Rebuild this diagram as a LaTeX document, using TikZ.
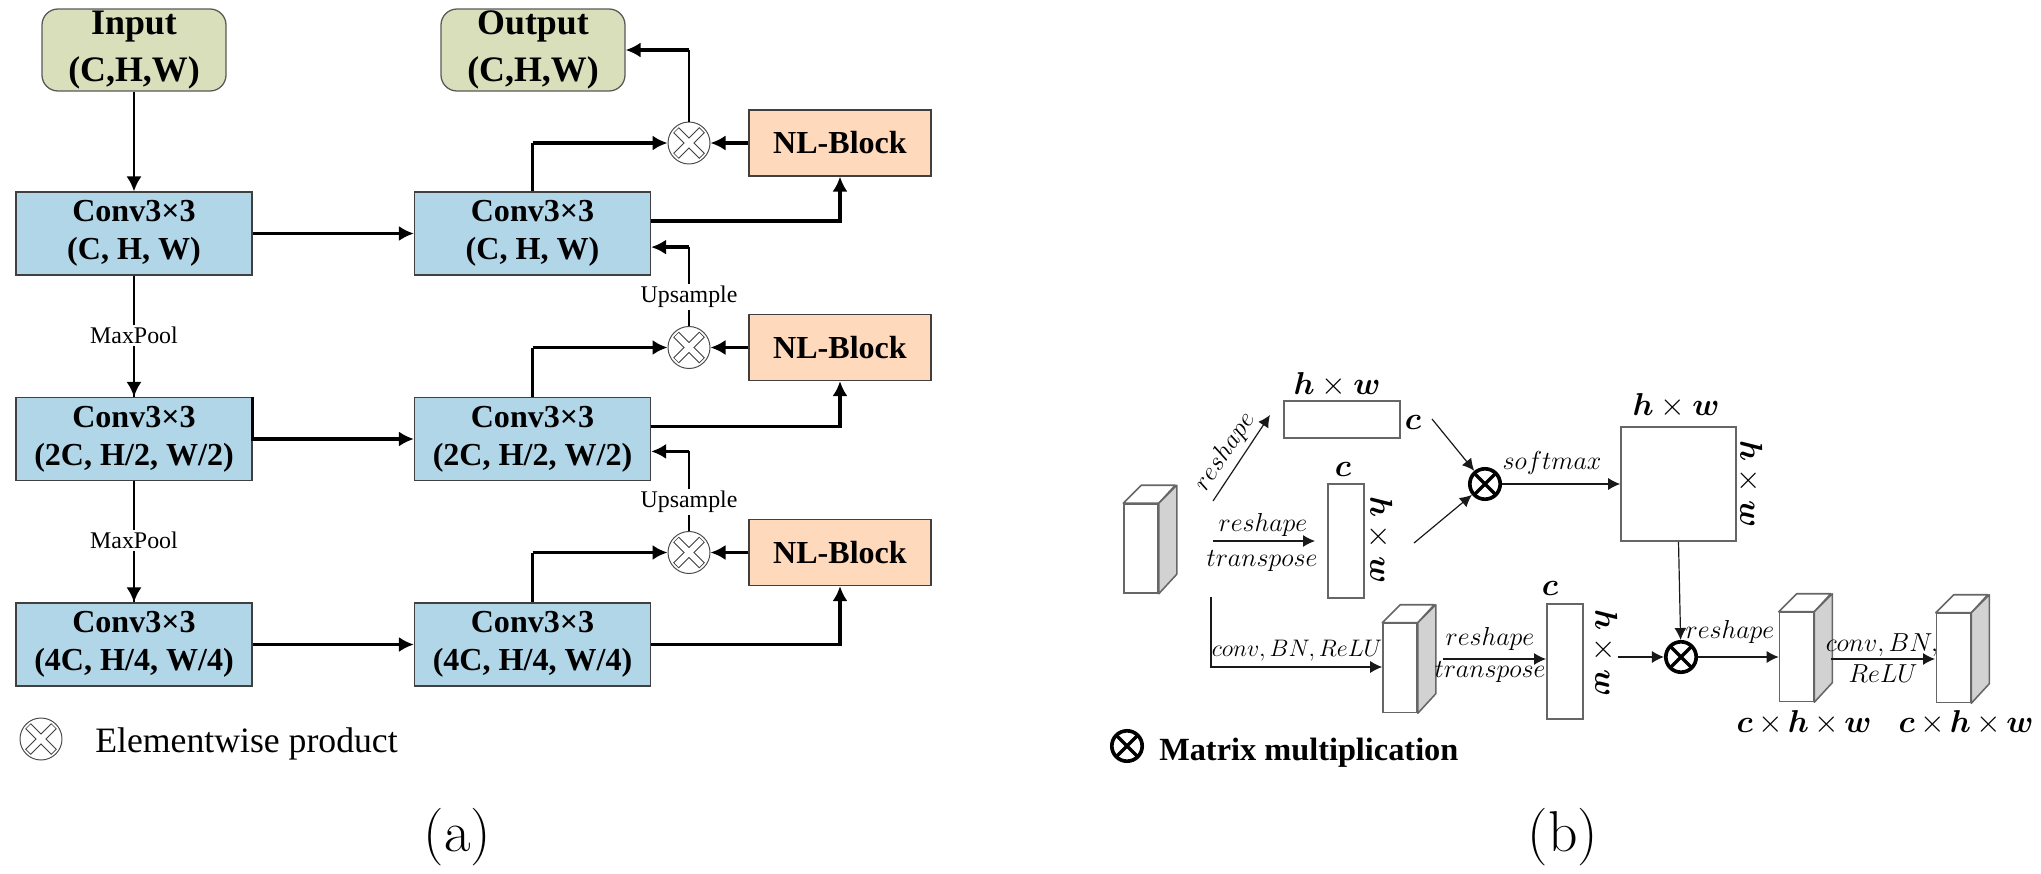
\documentclass[tikz,border=0pt]{standalone}
\usepackage{fix-cm}
\usepackage{amsmath,amssymb}
\usepackage{bm}
\usepackage{fontspec}
\newfontfamily\tnr{Liberation Serif}
\usepackage{tikz}
\usetikzlibrary{arrows.meta,positioning}
\definecolor{convblue}{HTML}{B1D6E8}
\definecolor{nlpeach}{HTML}{FFD9BC}
\definecolor{ioolive}{HTML}{D9DFBA}
\definecolor{sidegray}{HTML}{D2D2D2}
\definecolor{faceline}{HTML}{666666}
\newcommand{\cuboid}[3]{%
  \node[front face] (#1) at (#2,#3) {};
  \draw[face line,fill=white] (#1.north west) -- ++(18,-18) -- ++(34,0) -- (#1.north east) -- cycle;
  \draw[face line,fill=sidegray] (#1.north east) -- ++(18,-18) -- ++(0,89) -- (#1.south east) -- cycle;
}
\begin{document}
\begin{tikzpicture}[x=0.25mm,y=-0.25mm,>=Latex,
io box/.style={draw=black!65,fill=ioolive,rounded corners=4mm,line width=.9pt,minimum width=46mm,minimum height=20.5mm,inner sep=0pt,align=center,font=\tnr\fontsize{25.5}{33}\selectfont\bfseries},
conv box/.style={draw=black!75,fill=convblue,line width=.9pt,minimum width=59mm,minimum height=20.75mm,inner sep=0pt,align=center,font=\tnr\fontsize{22.8}{27}\selectfont\bfseries},
nl box/.style={draw=black!75,fill=nlpeach,line width=.9pt,minimum width=45.5mm,minimum height=16.5mm,inner sep=0pt,font=\tnr\fontsize{22.8}{27}\selectfont\bfseries},
prod/.style={circle,draw=black!70,fill=white,line width=.7pt,minimum size=10.5mm,inner sep=0pt,path picture={
  \draw[black!75,line width=5.6pt] ([shift={(-13,-13)}]path picture bounding box.center) -- ([shift={(13,13)}]path picture bounding box.center);
  \draw[black!75,line width=5.6pt] ([shift={(13,-13)}]path picture bounding box.center) -- ([shift={(-13,13)}]path picture bounding box.center);
  \draw[white,line width=4.2pt] ([shift={(-12.4,-12.4)}]path picture bounding box.center) -- ([shift={(12.4,12.4)}]path picture bounding box.center);
  \draw[white,line width=4.2pt] ([shift={(12.4,-12.4)}]path picture bounding box.center) -- ([shift={(-12.4,12.4)}]path picture bounding box.center);}},
mat prod/.style={circle,draw=black,line width=2.6pt,minimum size=7.6mm,inner sep=0pt,path picture={
  \draw[line width=2.4pt] (path picture bounding box.north west) -- (path picture bounding box.south east);
  \draw[line width=2.4pt] (path picture bounding box.north east) -- (path picture bounding box.south west);}},
small label/.style={fill=white,inner xsep=1pt,inner ysep=1.5pt,font=\tnr\fontsize{17}{20}\selectfont},
flow/.style={-{Latex[length=3.75mm,width=3.8mm]},line width=1.8pt},
heavy flow/.style={-{Latex[length=3.75mm,width=3.8mm]},line width=2.6pt},
plain line/.style={line width=1.8pt},
front face/.style={draw=faceline,fill=white,line width=1.1pt,minimum width=8.5mm,minimum height=22.25mm,inner sep=0pt},
face line/.style={draw=faceline,line width=1.1pt,line join=round},
tensor box/.style={draw=faceline,fill=white,line width=1.1pt,inner sep=0pt},
thin flow/.style={-{Latex[length=3mm,width=3mm]},line width=.85pt,black!90},
op label/.style={inner sep=0pt,font=\fontsize{18.5}{22}\selectfont},
dim label/.style={inner sep=0pt,font=\fontsize{22.5}{27}\selectfont}]
\useasboundingbox (0,0) rectangle (2041,873);
% (a)
\node[io box] (inbox) at (134,50) {Input\\(C,H,W)};
\node[io box] (outbox) at (533,50) {Output\\(C,H,W)};
\node[conv box] (conv1) at (134,233.5) {Conv3×3\\(C, H, W)};
\node[conv box] (conv2) at (134,439) {Conv3×3\\(2C, H/2, W/2)};
\node[conv box] (conv3) at (134,644.5) {Conv3×3\\(4C, H/4, W/4)};
\node[conv box] (mid1) at (532.5,233.5) {Conv3×3\\(C, H, W)};
\node[conv box] (mid2) at (532.5,439) {Conv3×3\\(2C, H/2, W/2)};
\node[conv box] (mid3) at (532.5,644.5) {Conv3×3\\(4C, H/4, W/4)};
\node[nl box] (nl1) at (840,143) {NL-Block};
\node[nl box] (nl2) at (840,347.5) {NL-Block};
\node[nl box] (nl3) at (840,552.5) {NL-Block};
\node[prod] (prod1) at (689,143) {};
\node[prod] (prod2) at (689,347.5) {};
\node[prod] (prod3) at (689,552.5) {};
\coordinate (mid1low) at ([yshift=-3.4mm]mid1.east);
\coordinate (mid2low) at ([yshift=-3.1mm]mid2.east);
\draw[flow] (inbox) -- (conv1);
\draw[plain line] (conv1) -- node[small label,pos=.49] (pool1) {MaxPool} (conv2);
\draw[flow] (pool1) -- (conv2);
\draw[plain line] (conv2) -- node[small label,pos=.49] (pool2) {MaxPool} (conv3);
\draw[flow] (pool2) -- (conv3);
\draw[heavy flow] (conv1) -- (mid1);
\draw[heavy flow] (conv2.north east) |- (mid2.west);
\draw[heavy flow] (conv3) -- (mid3);
\draw[heavy flow] (nl1) -- (prod1);
\draw[heavy flow] (nl2) -- (prod2);
\draw[heavy flow] (nl3) -- (prod3);
\draw[plain line] (mid1.north) -- (mid1.north |- prod1.west);
\draw[plain line] (mid2.north) -- (mid2.north |- prod2.west);
\draw[plain line] (mid3.north) -- (mid3.north |- prod3.west);
\draw[heavy flow] (mid1.north |- prod1.west) -- (prod1.west);
\draw[heavy flow] (mid2.north |- prod2.west) -- (prod2.west);
\draw[heavy flow] (mid3.north |- prod3.west) -- (prod3.west);
\draw[heavy flow] ([yshift=3.1mm]mid1.east) -| (nl1.south);
\draw[heavy flow] ([yshift=3.1mm]mid2.east) -| (nl2.south);
\draw[heavy flow] (mid3.east) -| (nl3.south);
\draw[plain line] (prod1.north) -- (prod1.north |- outbox.east);
\draw[heavy flow] (prod1.north |- outbox.east) -- (outbox.east);
\draw[plain line] (prod2.north) -- node[small label,pos=.37] {Upsample} (prod2.north |- mid1low);
\draw[heavy flow] (prod2.north |- mid1low) -- (mid1low);
\draw[plain line] (prod3.north) -- node[small label,pos=.37] {Upsample} (prod3.north |- mid2low);
\draw[heavy flow] (prod3.north |- mid2low) -- (mid2low);
\node[prod] (prodkey) at (41,739) {};
\node[anchor=base west,inner sep=0pt,font=\tnr\fontsize{25.4}{30}\selectfont] (prodtext) at (95,752.5) {Elementwise product};
\node[font=\fontsize{41}{48}\selectfont] (capa) at (457.5,837) {(a)};
% (b)
\cuboid{cubA}{1141}{548.5}
\cuboid{cubB}{1400}{668}
\cuboid{cubC}{1796.5}{657}
\cuboid{cubD}{1953.5}{658}
\node[tensor box,minimum width=29mm,minimum height=9.25mm] (wide) at (1342,419.5) {};
\node[tensor box,minimum width=9mm,minimum height=28.5mm] (tall1) at (1346,541) {};
\node[tensor box,minimum width=9mm,minimum height=28.75mm] (tall2) at (1565,661.5) {};
\node[tensor box,minimum width=28.75mm,minimum height=28.5mm] (square) at (1678.5,484) {};
\node[mat prod] (mat1) at (1485,484) {};
\node[mat prod] (mat2) at (1681,657) {};
\node[dim label] (wideh) at (1337,385) {\(\bm{h}\times\bm{w}\)};
\node[dim label] (widec) at (1413,422) {\(\bm{c}\)};
\node[dim label] (tallc) at (1343,469) {\(\bm{c}\)};
\node[dim label,rotate=-90] (tallh) at (1380,540) {\(\bm{h}\times\bm{w}\)};
\node[dim label] (tallcc) at (1550,588) {\(\bm{c}\)};
\node[dim label,rotate=-90] (tallhh) at (1605,653) {\(\bm{h}\times\bm{w}\)};
\node[dim label] (squareh) at (1676,406) {\(\bm{h}\times\bm{w}\)};
\node[dim label,rotate=-90] (squarew) at (1750,484) {\(\bm{h}\times\bm{w}\)};
\node[dim label] (dimC) at (1804,723) {\(\bm{c}\mkern-1mu\times\mkern-1mu\bm{h}\mkern-1mu\times\mkern-1mu\bm{w}\)};
\node[dim label] (dimD) at (1966,723) {\(\bm{c}\mkern-1mu\times\mkern-1mu\bm{h}\mkern-1mu\times\mkern-1mu\bm{w}\)};
\coordinate (upstart) at (1213,501);
\coordinate (upend) at (1270,415);
\coordinate (midstart) at (1213,541);
\coordinate (midend) at (1315,541);
\coordinate (lowstart) at (1211,597);
\coordinate (lowcorner) at (1211,667);
\coordinate (widestart) at (1432,419);
\coordinate (tallstart) at (1414,543);
\coordinate (tfstart) at (1443,659);
\coordinate (tfend) at (1546,659);
\coordinate (matin) at (1618,657);
\coordinate (lastin) at (1831,659);
\coordinate (lastend) at (1935,659);
\draw[thin flow] (upstart) -- (upend);
\draw[thin flow] (midstart) -- (midend);
\draw[thin flow] (lowstart) -- (lowcorner) -- (cubB.west |- lowcorner);
\draw[thin flow] (widestart) -- (mat1);
\draw[thin flow] (tallstart) -- (mat1);
\draw[thin flow] (tfstart) -- (tfend);
\draw[thin flow] (mat1) -- (square);
\draw[thin flow] (square.south) -- (mat2);
\draw[thin flow] (matin) -- (mat2);
\draw[thin flow] (mat2) -- (cubC.west);
\draw[thin flow] (lastin) -- (lastend);
\node[op label,rotate=56] (t1) at (1225,452) {\(reshape\)};
\node[op label] (t2) at (1263,525) {\(reshape\)};
\node[op label] (t3) at (1262,561) {\(transpose\)};
\node[op label,font=\fontsize{17}{20}\selectfont] (t4) at (1297,651) {\(conv,BN,ReLU\)};
\node[op label] (t5) at (1490,639) {\(reshape\)};
\node[op label] (t6) at (1490,672) {\(transpose\)};
\node[op label] (t7) at (1552,463) {\(softmax\)};
\node[op label] (t8) at (1730,632) {\(reshape\)};
\node[op label] (t9) at (1882,645) {\(conv,BN,\)};
\node[op label] (t10) at (1883,674) {\(ReLU\)};
\node[mat prod] (matkey) at (1127,746) {};
\node[anchor=base west,inner sep=0pt,font=\tnr\fontsize{23}{28}\selectfont\bfseries] (mattext) at (1159,760) {Matrix multiplication};
\node[font=\fontsize{41}{48}\selectfont] (capb) at (1563,837) {(b)};
\end{tikzpicture}
\end{document}
